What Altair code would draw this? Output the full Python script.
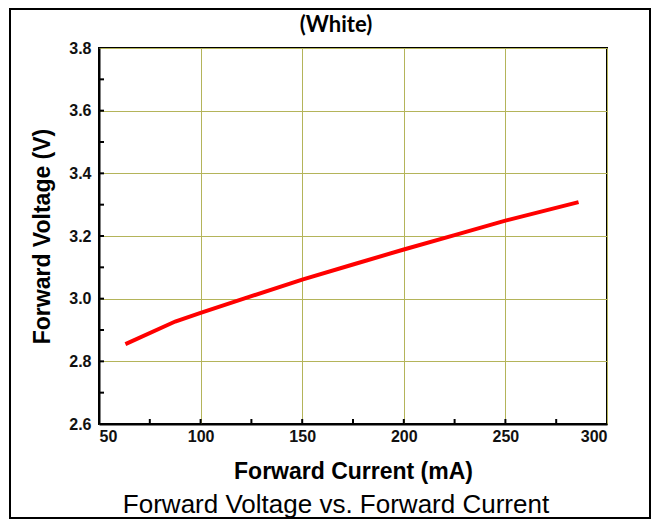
import altair as alt
import pandas as pd

# data
current_mA = [63, 87.5, 100, 125, 150, 175, 200, 225, 250, 286]
voltage_V = [2.855, 2.927, 2.955, 3.008, 3.061, 3.109, 3.157, 3.203, 3.249, 3.308]

x_major = [50, 100, 150, 200, 250, 300]
x_minor = [75, 125, 175, 225, 275]
y_major = [2.6, 2.8, 3.0, 3.2, 3.4, 3.6, 3.8]
y_minor = [2.7, 2.9, 3.1, 3.3, 3.5, 3.7]

W, H = 508, 376
FONT = "Liberation Sans"

xs = alt.Scale(domain=[50, 300], nice=False, zero=False)
ys = alt.Scale(domain=[2.6, 3.8], nice=False, zero=False)

df = pd.DataFrame({"I": current_mA, "V": voltage_V})

line = alt.Chart(df).mark_line(color="#ff0000", strokeWidth=4).encode(
    x=alt.X("I:Q", scale=xs,
            axis=alt.Axis(values=x_major, title="Forward Current (mA)", format="d")),
    y=alt.Y("V:Q", scale=ys,
            axis=alt.Axis(values=y_major, title="Forward Voltage (V)", format=".1f")),
)

xt = pd.DataFrame({"I": x_major[1:-1] + x_minor})
yt = pd.DataFrame({"V": y_major[1:-1] + y_minor})

xticks = alt.Chart(xt).mark_rule(color="black", strokeWidth=2).encode(
    x=alt.X("I:Q", scale=xs), y=alt.value(H), y2=alt.value(H - 5))
yticks = alt.Chart(yt).mark_rule(color="black", strokeWidth=2).encode(
    y=alt.Y("V:Q", scale=ys), x=alt.value(0), x2=alt.value(5))

title = alt.Chart(pd.DataFrame({"t": ["(White)"]})).mark_text(
    font="Lato", fontWeight="bold", fontSize=22, color="black", baseline="middle"
).encode(text="t:N", x=alt.value(237), y=alt.value(-23))

caption = alt.Chart(pd.DataFrame({"t": ["Forward Voltage vs. Forward Current"]})).mark_text(
    font=FONT, fontSize=26, color="black", baseline="middle"
).encode(text="t:N", x=alt.value(237), y=alt.value(457))

border = alt.Chart(pd.DataFrame({"a": [0]})).mark_rect(
    filled=False, stroke="black", strokeWidth=2
).encode(x=alt.value(-89), x2=alt.value(551), y=alt.value(-39), y2=alt.value(470))

chart = alt.layer(line, xticks, yticks, title, caption, border).properties(
    width=W, height=H,
    autosize=alt.AutoSizeParams(type="none"),
    padding={"left": 91, "top": 40, "right": 45, "bottom": 95},
).configure_view(
    stroke="black", strokeWidth=2
).configure_axis(
    grid=True, gridColor="#b4b45a", gridWidth=1,
    domain=True, domainColor="black", domainWidth=2,
    ticks=False,
    labelFont=FONT, labelFontWeight="bold", labelFontSize=16, labelColor="#111111",
    titleFont=FONT, titleFontWeight="bold", titleFontSize=23, titleColor="black",
).configure_axisX(
    labelPadding=4, titlePadding=16,
).configure_axisY(
    labelPadding=8, titlePadding=14,
)

chart.save("out.html", embed_options={"renderer": "svg", "actions": False})
